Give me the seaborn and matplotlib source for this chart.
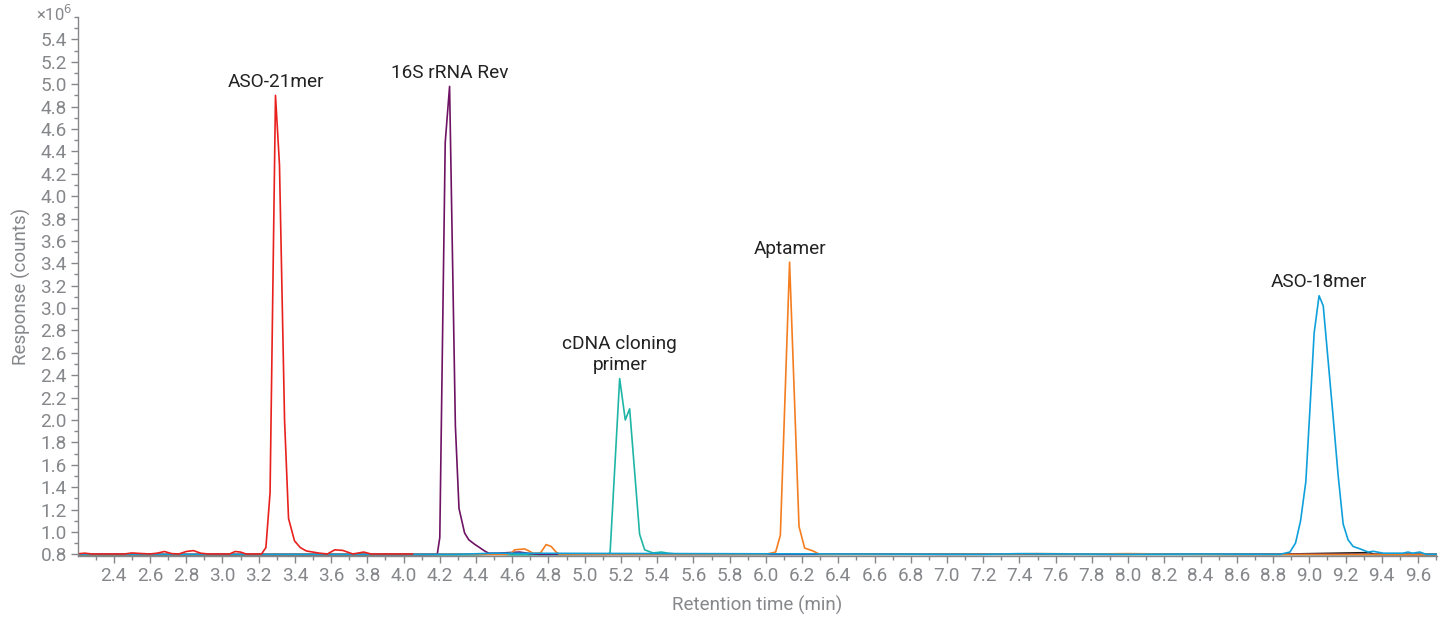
import numpy as np
import pandas as pd
import seaborn as sns
import matplotlib
matplotlib.use("Agg")
import matplotlib.pyplot as plt
from matplotlib.ticker import MultipleLocator, FixedLocator

# ---------------- data (retention time in min, response in 1e6 counts) ----------------
red_t = [2.203, 2.24, 2.28, 2.46, 2.50, 2.54, 2.60, 2.64, 2.68, 2.72, 2.76, 2.80, 2.84, 2.88,
         2.92, 3.04, 3.07, 3.10, 3.13, 3.216, 3.24, 3.263, 3.293, 3.315, 3.343, 3.365, 3.398,
         3.43, 3.463, 3.536, 3.58, 3.62, 3.664, 3.72, 3.78, 3.82, 4.05]
red_v = [0.805, 0.81, 0.803, 0.803, 0.812, 0.808, 0.803, 0.81, 0.825, 0.806, 0.803, 0.825,
         0.833, 0.81, 0.803, 0.803, 0.825, 0.82, 0.803, 0.803, 0.86, 1.35, 4.90, 4.28, 2.00,
         1.12, 0.92, 0.86, 0.83, 0.81, 0.803, 0.84, 0.835, 0.803, 0.82, 0.803, 0.803]

purple_t = [2.203, 3.0, 4.10, 4.186, 4.20, 4.23, 4.254, 4.286, 4.306, 4.337, 4.36, 4.392,
            4.42, 4.447, 4.47, 4.52, 4.58, 4.64, 4.70, 4.75, 5.2, 6.2, 6.6, 7.0, 7.6, 7.9,
            8.2, 8.6, 9.0, 9.705]
purple_v = [0.797, 0.797, 0.798, 0.80, 0.95, 4.48, 4.98, 1.95, 1.21, 0.99, 0.93, 0.89, 0.86,
            0.83, 0.81, 0.81, 0.815, 0.82, 0.806, 0.80, 0.80, 0.80, 0.803, 0.80, 0.804, 0.80,
            0.803, 0.80, 0.80, 0.798]

teal_t = [2.203, 4.4, 4.5, 4.6, 5.12, 5.14, 5.193, 5.224, 5.248, 5.303, 5.331, 5.377, 5.423,
          5.46, 5.52, 7.0, 9.705]
teal_v = [0.792, 0.795, 0.805, 0.795, 0.80, 0.81, 2.37, 2.00, 2.10, 0.98, 0.84, 0.812, 0.82,
          0.81, 0.80, 0.80, 0.797]

orange_t = [2.203, 4.56, 4.595, 4.613, 4.668, 4.696, 4.714, 4.755, 4.787, 4.815, 4.842, 4.86,
            6.00, 6.054, 6.08, 6.131, 6.183, 6.214, 6.26, 6.297, 7.3, 7.5, 7.8, 8.0, 8.4, 9.705]
orange_v = [0.795, 0.80, 0.81, 0.84, 0.848, 0.827, 0.81, 0.81, 0.887, 0.87, 0.82, 0.80,
            0.80, 0.82, 0.97, 3.41, 1.05, 0.856, 0.83, 0.80, 0.802, 0.806, 0.803, 0.806, 0.80, 0.797]

blue_t = [2.203, 4.3, 4.5, 7.2, 7.4, 8.0, 8.4, 8.838, 8.893, 8.924, 8.952, 8.981, 9.003,
          9.027, 9.054, 9.077, 9.104, 9.132, 9.159, 9.187, 9.214, 9.242, 9.278, 9.325, 9.353,
          9.408, 9.517, 9.545, 9.57, 9.61, 9.645, 9.69, 9.705]
blue_v = [0.798, 0.80, 0.81, 0.80, 0.806, 0.80, 0.803, 0.80, 0.82, 0.90, 1.10, 1.45, 2.08,
          2.78, 3.11, 3.02, 2.53, 2.02, 1.51, 1.07, 0.93, 0.87, 0.85, 0.82, 0.827, 0.81, 0.81,
          0.82, 0.81, 0.82, 0.80, 0.80, 0.80]

black_t = [2.203, 8.80, 9.33, 9.36, 9.705]
black_v = [0.799, 0.80, 0.815, 0.80, 0.799]

series_names = ["black", "teal", "purple", "orange", "blue", "red"]
series_colors = {"black": "#1c1c1c", "teal": "#1fb5a6", "purple": "#6e1363",
                 "orange": "#f47d20", "blue": "#0fa0dc", "red": "#e8211d"}

peak_labels = ["ASO-21mer", "16S rRNA Rev", "cDNA cloning\nprimer", "Aptamer", "ASO-18mer"]
peak_series = ["red", "purple", "teal", "orange", "blue"]

x_ticks = [round(2.4 + 0.2 * i, 1) for i in range(37)]
y_ticks = [round(0.8 + 0.2 * i, 1) for i in range(24)]

# ---------------- build long table ----------------
raw = {"red": (red_t, red_v), "purple": (purple_t, purple_v), "teal": (teal_t, teal_v),
       "orange": (orange_t, orange_v), "blue": (blue_t, blue_v), "black": (black_t, black_v)}
frames = []
for name in series_names:
    t, v = raw[name]
    frames.append(pd.DataFrame({"time": t, "response": v, "sample": name}))
df = pd.concat(frames, ignore_index=True)

# ---------------- plot ----------------
sns.set_theme(style="ticks")
plt.rcParams['font.family'] = ['Roboto', 'DejaVu Sans']

fig = plt.figure(figsize=(14.48, 6.19), dpi=100)
ax = fig.add_axes([0.0539, 0.1018, 0.9385, 0.8707])

sns.lineplot(data=df, x="time", y="response", hue="sample", hue_order=series_names,
             palette=series_colors, estimator=None, sort=False, units="sample",
             legend=False, linewidth=1.2, ax=ax)

ax.set_xlim(2.203, 9.705)
ax.set_ylim(0.785, 5.6)

gray = "#85878a"
fs = 13.7
ax.xaxis.set_major_locator(FixedLocator(x_ticks))
ax.xaxis.set_minor_locator(MultipleLocator(0.1))
ax.yaxis.set_major_locator(FixedLocator(y_ticks))
ax.yaxis.set_minor_locator(MultipleLocator(0.1))
ax.set_xticklabels([f"{v:.1f}" for v in x_ticks])
ax.set_yticklabels([f"{v:.1f}" for v in y_ticks])

ax.tick_params(axis="both", which="major", direction="out", length=5, width=1,
               color=gray, labelcolor=gray, labelsize=fs, pad=3)
ax.tick_params(axis="both", which="minor", direction="out", length=3, width=1, color=gray)

for s in ["top", "right"]:
    ax.spines[s].set_visible(False)
for s in ["left", "bottom"]:
    ax.spines[s].set_color(gray)
    ax.spines[s].set_linewidth(1)

ax.set_xlabel("Retention time (min)", color=gray, fontsize=13.5, labelpad=8)
ax.set_ylabel("Response (counts)", color=gray, fontsize=13.5, labelpad=7)

fig.text(36 / 1448, 1 - 14 / 619, "×10$^{6}$", color=gray, fontsize=12,
         ha="left", va="center")

# peak annotations
for lab, name in zip(peak_labels, peak_series):
    t, v = raw[name]
    i = int(np.argmax(v))
    ax.annotate(lab, xy=(t[i], v[i]), xytext=(0, 6), textcoords="offset points",
                ha="center", va="baseline", fontsize=fs, color="#222222",
                linespacing=1.25)

fig.savefig("out.png", dpi=100)
